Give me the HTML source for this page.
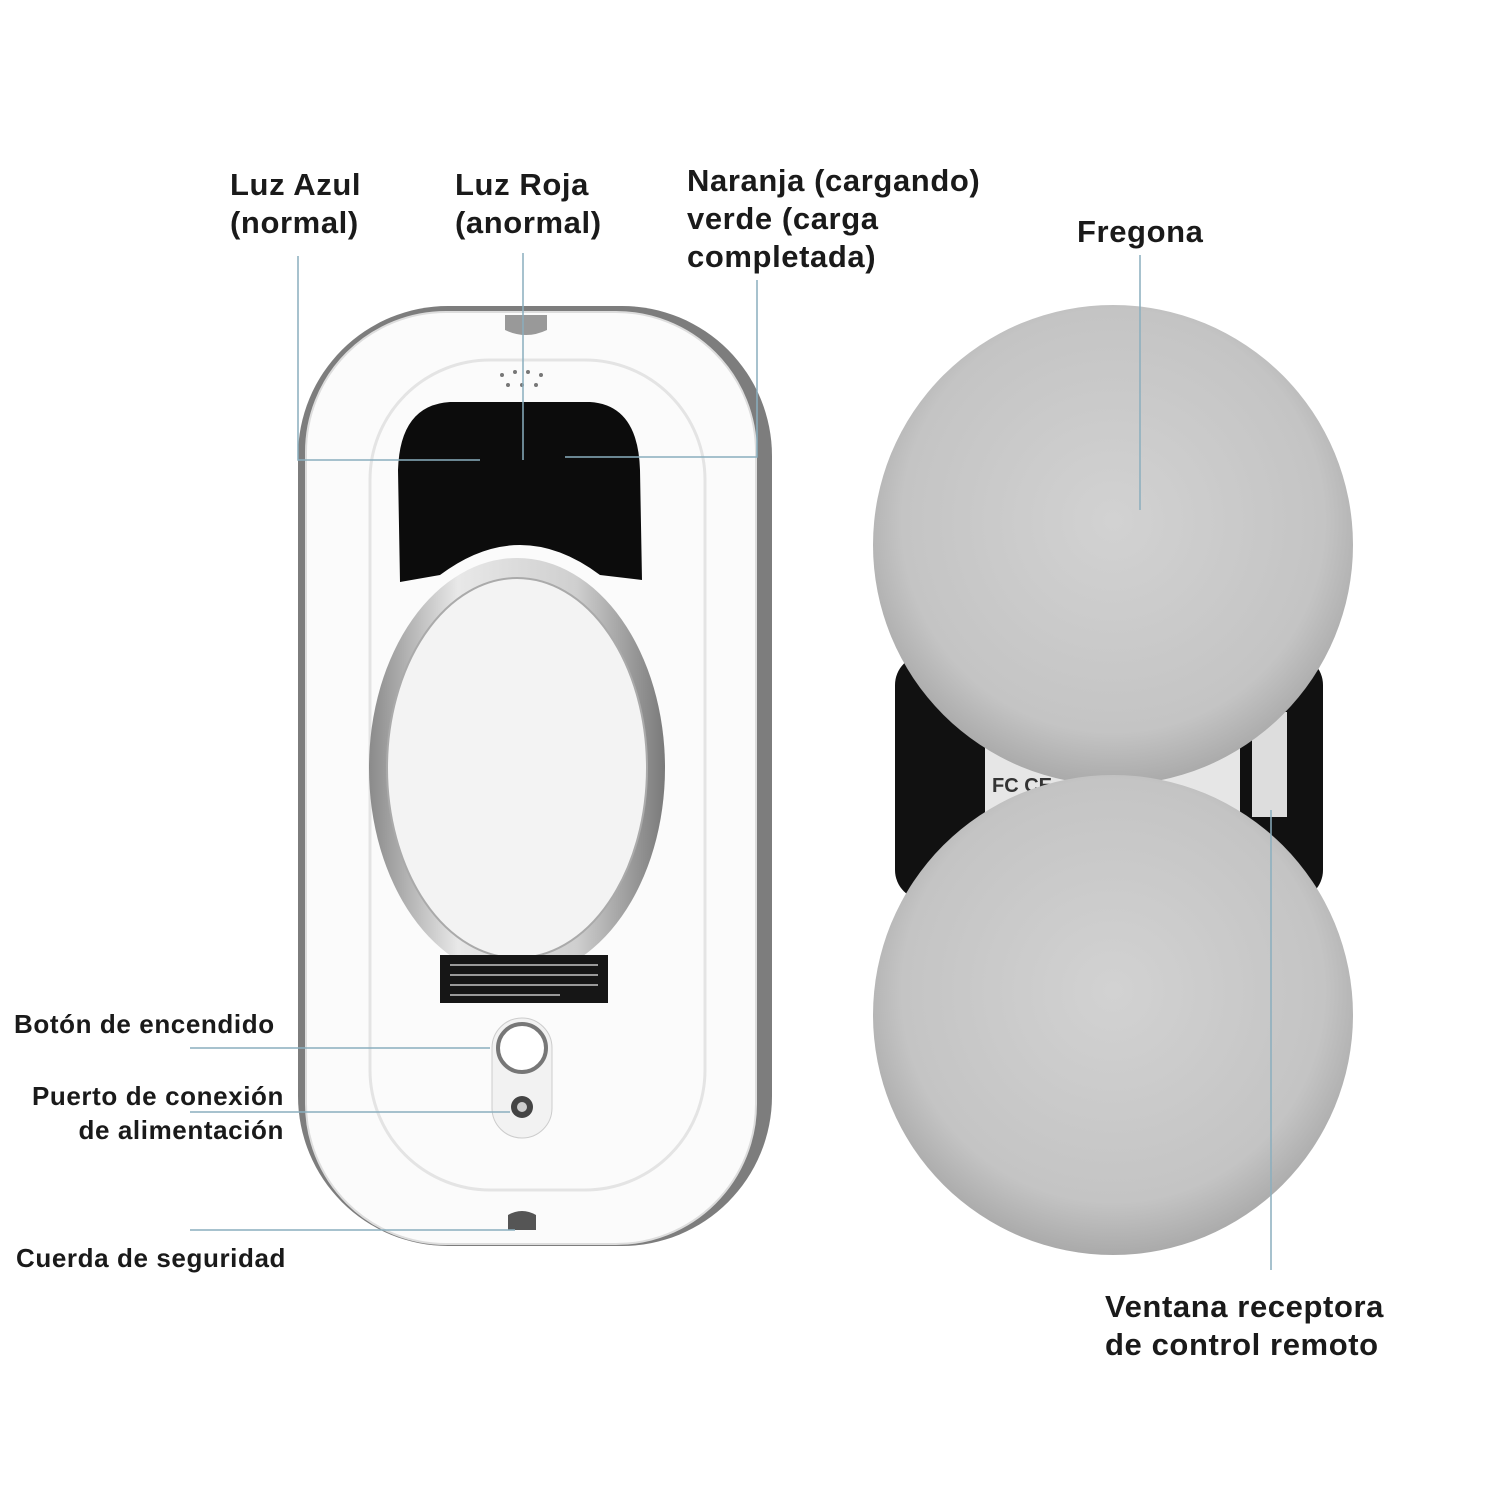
<!DOCTYPE html>
<html><head><meta charset="utf-8"><style>
body{margin:0;width:1500px;height:1500px;background:#fff;overflow:hidden;position:relative;font-family:"Liberation Sans",sans-serif}
.t{position:absolute;font-weight:bold;font-size:31px;letter-spacing:0.6px;color:#1a1a1a;line-height:38px;white-space:nowrap}
.s{position:absolute;font-weight:bold;font-size:26px;letter-spacing:0.6px;color:#1a1a1a;line-height:34px;white-space:nowrap}
svg{position:absolute;left:0;top:0}
</style></head><body>
<svg width="1500" height="1500">
<defs>
<radialGradient id="fl" cx="50%" cy="45%" r="55%"><stop offset="0" stop-color="#d2d2d2"/><stop offset="0.8" stop-color="#c4c4c4"/><stop offset="1" stop-color="#aaa"/></radialGradient>
<linearGradient id="ring" x1="0" x2="1"><stop offset="0" stop-color="#8a8a8a"/><stop offset="0.3" stop-color="#e8e8e8"/><stop offset="0.7" stop-color="#cfcfcf"/><stop offset="1" stop-color="#7a7a7a"/></linearGradient>
</defs>
<rect x="298" y="306" width="474" height="940" rx="150" fill="#7d7d7d"/>
<rect x="306" y="312" width="450" height="932" rx="140" fill="#fbfbfb" stroke="#ddd" stroke-width="2"/>
<rect x="370" y="360" width="335" height="830" rx="120" fill="none" stroke="#e4e4e4" stroke-width="3"/>
<path d="M505 315 h42 v15 q-21 10 -42 0z" fill="#999"/>
<g fill="#777"><circle cx="502" cy="375" r="2"/><circle cx="515" cy="372" r="2"/><circle cx="528" cy="372" r="2"/><circle cx="541" cy="375" r="2"/><circle cx="508" cy="385" r="2"/><circle cx="522" cy="385" r="2"/><circle cx="536" cy="385" r="2"/></g>
<path d="M398 470 Q400 405 450 402 L590 402 Q638 405 640 470 L642 580 L600 575 Q560 545 520 545 Q480 545 440 575 L400 582 Z" fill="#0c0c0c"/>
<ellipse cx="517" cy="768" rx="148" ry="210" fill="url(#ring)"/>
<ellipse cx="517" cy="768" rx="130" ry="190" fill="#f3f3f3" stroke="#aaa" stroke-width="2"/>
<rect x="440" y="955" width="168" height="48" fill="#161616"/>
<g stroke="#999" stroke-width="2"><line x1="450" y1="965" x2="598" y2="965"/><line x1="450" y1="975" x2="598" y2="975"/><line x1="450" y1="985" x2="598" y2="985"/><line x1="450" y1="995" x2="560" y2="995"/></g>
<rect x="492" y="1018" width="60" height="120" rx="30" fill="#f2f2f2" stroke="#ccc"/>
<circle cx="522" cy="1048" r="24" fill="#fff" stroke="#777" stroke-width="4"/>
<circle cx="522" cy="1107" r="11" fill="#444"/><circle cx="522" cy="1107" r="5" fill="#ccc"/>
<path d="M508 1215 q14 -8 28 0 v15 h-28z" fill="#555"/>
<rect x="895" y="655" width="428" height="245" rx="30" fill="#111"/>
<rect x="985" y="720" width="255" height="100" fill="#e6e6e6"/>
<text x="992" y="792" font-size="20" font-weight="bold" fill="#333" font-family="Liberation Sans">FC CE</text>
<rect x="1252" y="712" width="35" height="105" fill="#ddd"/>
<circle cx="1113" cy="545" r="240" fill="url(#fl)"/>
<circle cx="1113" cy="1015" r="240" fill="url(#fl)"/>
<g stroke="#8aaebe" stroke-width="1.5" fill="none">
<polyline points="298,256 298,460 480,460"/>
<line x1="523" y1="253" x2="523" y2="460"/>
<polyline points="757,280 757,457 565,457"/>
<line x1="1140" y1="255" x2="1140" y2="510"/>
<line x1="190" y1="1048" x2="490" y2="1048"/>
<line x1="190" y1="1112" x2="510" y2="1112"/>
<line x1="190" y1="1230" x2="515" y2="1230"/>
<line x1="1271" y1="810" x2="1271" y2="1270"/>
</g>
</svg>
<div class="t" style="left:230px;top:166px">Luz Azul<br>(normal)</div>
<div class="t" style="left:455px;top:166px">Luz Roja<br>(anormal)</div>
<div class="t" style="left:687px;top:162px">Naranja (cargando)<br>verde (carga<br>completada)</div>
<div class="t" style="left:1077px;top:213px">Fregona</div>
<div class="s" style="left:14px;top:1007px">Botón de encendido</div>
<div class="s" style="left:0px;top:1079px;width:284px;text-align:right">Puerto de conexión<br>de alimentación</div>
<div class="s" style="left:16px;top:1241px">Cuerda de seguridad</div>
<div class="t" style="left:1105px;top:1288px">Ventana receptora<br>de control remoto</div>
</body></html>
